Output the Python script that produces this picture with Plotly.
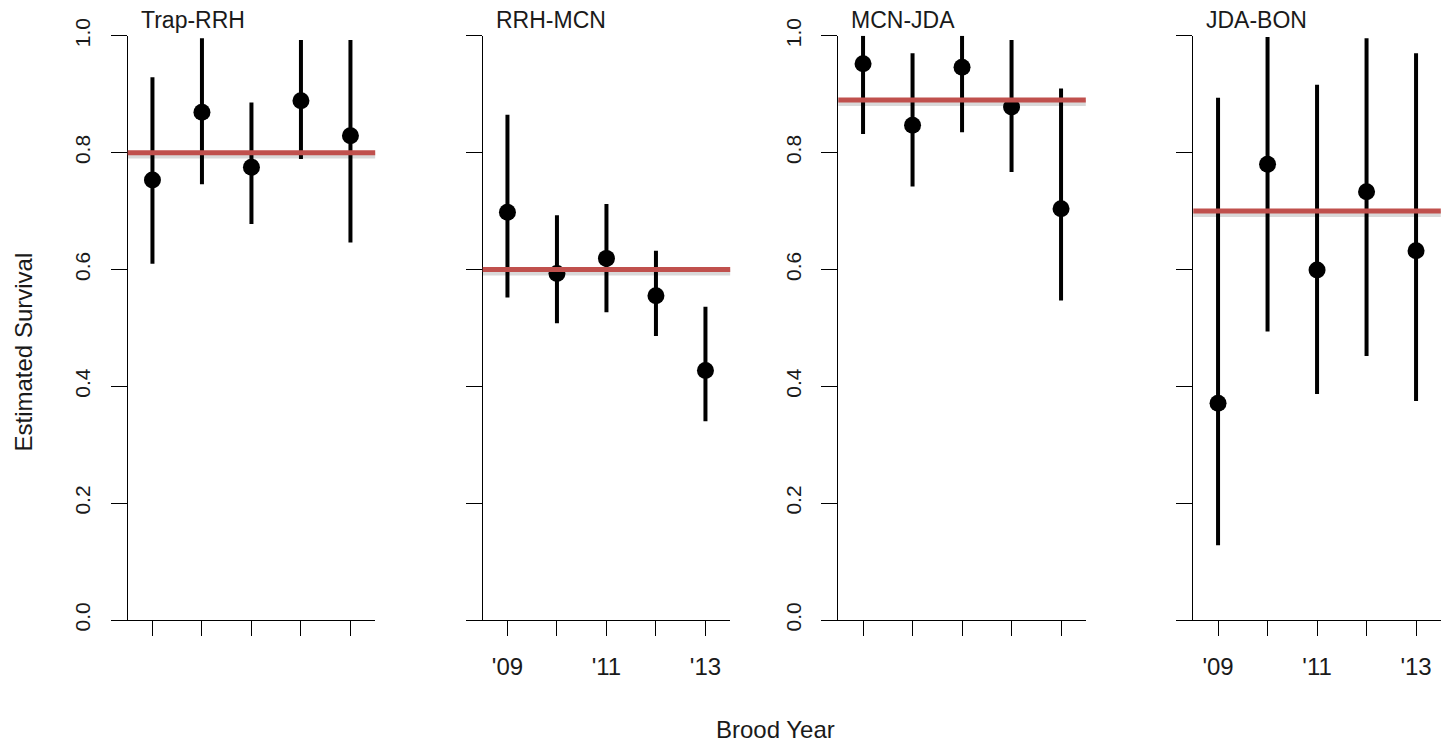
import plotly.graph_objects as go

# ---- data ----
years = [2009, 2010, 2011, 2012, 2013]
x_tick_text = ["'09", "", "'11", "", "'13"]
y_tick_vals = [0.0, 0.2, 0.4, 0.6, 0.8, 1.0]
y_tick_text = ["0.0", "0.2", "0.4", "0.6", "0.8", "1.0"]
reaches = ["Trap-RRH", "RRH-MCN", "MCN-JDA", "JDA-BON"]

est_trap_rrh = [0.753, 0.869, 0.775, 0.889, 0.829]
lo_trap_rrh = [0.610, 0.746, 0.678, 0.789, 0.646]
hi_trap_rrh = [0.929, 0.996, 0.886, 0.993, 0.993]

est_rrh_mcn = [0.698, 0.593, 0.619, 0.555, 0.427]
lo_rrh_mcn = [0.552, 0.508, 0.527, 0.486, 0.340]
hi_rrh_mcn = [0.865, 0.693, 0.712, 0.632, 0.536]

est_mcn_jda = [0.952, 0.847, 0.946, 0.878, 0.704]
lo_mcn_jda = [0.832, 0.742, 0.835, 0.767, 0.547]
hi_mcn_jda = [1.000, 0.970, 1.000, 0.993, 0.910]

est_jda_bon = [0.371, 0.780, 0.599, 0.733, 0.632]
lo_jda_bon = [0.128, 0.494, 0.387, 0.452, 0.375]
hi_jda_bon = [0.894, 0.998, 0.916, 0.996, 0.970]

mean_survival = [0.80, 0.60, 0.89, 0.70]

estimates = [est_trap_rrh, est_rrh_mcn, est_mcn_jda, est_jda_bon]
lowers = [lo_trap_rrh, lo_rrh_mcn, lo_mcn_jda, lo_jda_bon]
uppers = [hi_trap_rrh, hi_rrh_mcn, hi_mcn_jda, hi_jda_bon]

# ---- layout geometry ----
W, H = 1441, 745
panel_left_px = [127.7, 482.7, 838.3, 1193.3]
panel_w_px = 247.5
y_top_px, y_bot_px = 35.8, 620.0
x_range = [2008.5, 2013.5]
FONT = "Liberation Sans, Arial, sans-serif"
TXT = "#1a1a1a"
RED = "#C0504D"

fig = go.Figure()
shapes = []
annotations = []
layout_axes = {}

for i in range(4):
    n = i + 1
    xa = "x" if n == 1 else f"x{n}"
    ya = "y" if n == 1 else f"y{n}"
    est = estimates[i]
    err_plus = [h - e for h, e in zip(uppers[i], est)]
    err_minus = [e - l for e, l in zip(est, lowers[i])]
    fig.add_trace(go.Scatter(
        x=years, y=est, mode="markers", xaxis=xa, yaxis=ya,
        marker=dict(symbol="circle", size=17, color="black"),
        error_y=dict(type="data", symmetric=False, array=err_plus,
                     arrayminus=err_minus, thickness=4, width=0,
                     color="black"),
        cliponaxis=False, hoverinfo="x+y",
    ))
    # soft shadow + mean line
    shapes.append(dict(type="line", xref=f"{xa} domain", yref=ya,
                       x0=0.0, x1=1.0,
                       y0=mean_survival[i] - 0.005, y1=mean_survival[i] - 0.005,
                       line=dict(color="rgba(0,0,0,0.15)", width=6),
                       layer="above"))
    shapes.append(dict(type="line", xref=f"{xa} domain", yref=ya,
                       x0=0.0, x1=1.0,
                       y0=mean_survival[i], y1=mean_survival[i],
                       line=dict(color=RED, width=5), layer="above"))

    left = panel_left_px[i] / W
    right = (panel_left_px[i] + panel_w_px) / W
    show_x_labels = n in (2, 4)
    show_y_labels = n in (1, 3)
    xkey = "xaxis" if n == 1 else f"xaxis{n}"
    ykey = "yaxis" if n == 1 else f"yaxis{n}"
    layout_axes[xkey] = dict(
        domain=[left, min(right, 1.0)], range=x_range, anchor=ya,
        automargin=False,
        tickmode="array", tickvals=years,
        ticktext=x_tick_text if show_x_labels else [""] * 5,
        ticks="outside", ticklen=15, tickwidth=1.3, tickcolor="black",
        ticklabelstandoff=10,
        showline=True, linecolor="black", linewidth=1.3,
        showgrid=False, zeroline=False,
        tickfont=dict(family=FONT, size=24, color=TXT),
    )
    layout_axes[ykey] = dict(
        domain=[(H - y_bot_px) / H, (H - y_top_px) / H], range=[0, 1],
        anchor=xa, automargin=False,
        tickmode="array", tickvals=y_tick_vals,
        ticktext=y_tick_text if show_y_labels else [""] * 6,
        tickangle=-90, ticks="outside", ticklen=16, tickwidth=1.3,
        ticklabelstandoff=12,
        tickcolor="black", showline=True, linecolor="black", linewidth=1.3,
        showgrid=False, zeroline=False,
        tickfont=dict(family=FONT, size=21, color=TXT),
    )
    annotations.append(dict(
        text=reaches[i], xref=f"{xa} domain", yref="paper",
        x=0.045, y=(H - 20) / H, xanchor="left", yanchor="middle",
        showarrow=False, font=dict(family=FONT, size=23, color=TXT),
    ))

annotations.append(dict(
    text="Estimated Survival", xref="paper", yref="paper",
    x=22.5 / W, y=(H - 352) / H, xanchor="center", yanchor="middle",
    textangle=-90, showarrow=False,
    font=dict(family=FONT, size=24, color=TXT),
))
annotations.append(dict(
    text="Brood Year", xref="paper", yref="paper",
    x=776 / W, y=(H - 729) / H, xanchor="center", yanchor="middle",
    showarrow=False, font=dict(family=FONT, size=24, color=TXT),
))

fig.update_layout(
    width=W, height=H, margin=dict(l=0, r=0, t=0, b=0),
    paper_bgcolor="white", plot_bgcolor="white", showlegend=False,
    shapes=shapes, annotations=annotations, **layout_axes,
)

fig.write_html("out.html")
